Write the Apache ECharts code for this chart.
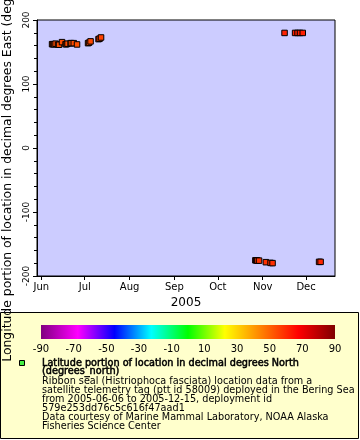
<!DOCTYPE html>
<html><head><meta charset="utf-8">
<script src="https://cdn.jsdelivr.net/npm/echarts@6/dist/echarts.min.js"></script>
<style>html,body{margin:0;padding:0;background:#fff}#c{width:360px;height:440px}</style>
</head><body><div id="c"></div>
<script>
// Observation times (UTC)
const times = [
  '2005-06-08T10:00','2005-06-09T02:00','2005-06-09T19:00','2005-06-10T20:00',
  '2005-06-12T13:00','2005-06-13T06:00','2005-06-15T07:00','2005-06-17T18:00',
  '2005-06-18T10:00','2005-06-19T03:00','2005-06-21T05:00','2005-06-21T21:00',
  '2005-06-23T10:00','2005-06-25T16:00',
  '2005-07-03T07:00','2005-07-03T23:30','2005-07-05T00:30',
  '2005-07-10T13:00','2005-07-11T06:00','2005-07-12T06:30',
  '2005-10-26T23:00','2005-10-27T15:00','2005-10-28T08:00','2005-10-29T12:00',
  '2005-11-03T05:00','2005-11-06T11:00','2005-11-07T20:00',
  '2005-11-16T03:00','2005-11-23T10:00','2005-11-25T03:00','2005-11-26T20:00','2005-11-28T17:00',
  '2005-12-10T00:00','2005-12-11T01:00'
];
// Longitude (degrees East)
const lons = [
  162.2,162.2,162.2,163.0,
  161.4,161.4,165.4,162.2,
  162.2,163.0,163.8,163.8,
  163.8,161.8,
  163.8,164.6,166.6,
  170.1,170.8,172.7,
  -175.5,-175.5,-175.9,-176.0,
  -178.4,-179.5,-179.9,
  179.8,179.8,179.8,179.8,179.8,
  -177.9,-177.9
];
// Latitude (degrees North) -> marker colour
const lats = [
  53.6,53.7,53.8,53.9,
  53.5,53.6,54.2,53.7,
  53.8,53.9,54.0,54.1,
  54.3,53.6,
  54.4,54.6,55.0,
  55.8,56.0,56.3,
  58.2,58.3,58.4,58.5,
  59.0,59.3,59.5,
  61.6,61.8,61.9,62.0,62.1,
  60.8,60.9
];
const monthTicks = ['2005-06-01','2005-07-01','2005-08-01','2005-09-01','2005-10-01','2005-11-01','2005-12-01'];
const monthLabels = ['Jun','Jul','Aug','Sep','Oct','Nov','Dec'];
const paletteColors = ['#800080','#ff00ff','#0000ff','#00ffff','#00ff00','#ffff00','#ff8000','#ff0000','#800000'];
const legendLines = [
  'Ribbon seal (Histriophoca fasciata) location data from a',
  'satellite telemetry tag (ptt id 58009) deployed in the Bering Sea',
  'from 2005-06-06 to 2005-12-15, deployment id',
  '579e253dd76c5c616f47aad1',
  'Data courtesy of Marine Mammal Laboratory, NOAA Alaska',
  'Fisheries Science Center'
];
const legendTitle = ['Latitude portion of location in decimal degrees North','(degrees_north)'];

const FF = '"DejaVu Sans", sans-serif';
const tms = monthTicks.map(s => Date.parse(s + 'T00:00:00Z'));
const data = times.map((t, i) => [Date.parse(t + ':00Z'), lons[i], lats[i]]);

const chart = echarts.init(document.getElementById('c'), null, {renderer: 'canvas'});

const textEls = [];
const titleY = [363.3, 371.7];
legendTitle.forEach((s, i) => textEls.push({
  type: 'text', z: 10,
  style: {text: s, x: 42, y: titleY[i], font: '9.7px ' + FF, fill: '#000', stroke: '#000', lineWidth: 0.5, verticalAlign: 'middle'}
}));
legendLines.forEach((s, i) => textEls.push({
  type: 'text', z: 10,
  style: {text: s, x: 42, y: 381.7 + i * 9, font: '9.7px ' + FF, fill: '#000', verticalAlign: 'middle'}
}));

const stops = paletteColors.map((c, i) => ({offset: i / (paletteColors.length - 1), color: c}));

chart.setOption({
  animation: false,
  textStyle: {fontFamily: FF, color: '#000'},
  grid: [
    {left: 37, top: 20, width: 298, height: 256, show: true, backgroundColor: '#ccccff', borderColor: '#000', borderWidth: 1,
     containLabel: false, outerBoundsMode: 'none'},
    {left: 41, top: 325, width: 294, height: 14, show: true, borderWidth: 0,
     containLabel: false, outerBoundsMode: 'none',
     backgroundColor: new echarts.graphic.LinearGradient(0, 0, 1, 0, stops)}
  ],
  xAxis: [
    {
      type: 'value', gridIndex: 0,
      min: Date.parse('2005-05-29T00:00:00Z'), max: Date.parse('2005-12-21T00:00:00Z'),
      splitLine: {show: false},
      axisLine: {show: true, onZero: false, lineStyle: {color: '#000', width: 1}},
      axisTick: {show: true, length: 4, lineStyle: {color: '#000'}, customValues: tms},
      axisLabel: {customValues: tms, fontSize: 10, color: '#000', margin: 6,
        formatter: v => { const k = tms.indexOf(v); return k >= 0 ? monthLabels[k] : ''; }},
      name: '2005', nameLocation: 'middle', nameGap: 21,
      nameTextStyle: {fontSize: 12, color: '#000'}
    },
    {
      type: 'value', gridIndex: 1, min: -90, max: 90, interval: 20,
      splitLine: {show: false}, axisLine: {show: false, onZero: false}, axisTick: {show: false},
      axisLabel: {fontSize: 10, color: '#000', margin: 5}
    }
  ],
  yAxis: [
    {
      type: 'value', gridIndex: 0, min: -200, max: 200, interval: 100,
      splitLine: {show: false},
      axisLine: {show: true, onZero: false, lineStyle: {color: '#000'}},
      axisTick: {show: true, length: 4, lineStyle: {color: '#000'}},
      minorTick: {show: true, splitNumber: 5, length: 3, lineStyle: {color: '#000'}},
      axisLabel: {rotate: 90, fontSize: 9, color: '#000', margin: 6},
      name: 'Longitude portion of location in decimal degrees East (degrees_east)',
      nameLocation: 'middle', nameGap: 18,
      nameTextStyle: {fontSize: 12.4, color: '#000'}
    },
    {type: 'value', gridIndex: 1, show: false, min: 0, max: 1}
  ],
  visualMap: {
    type: 'continuous', show: false, min: -90, max: 90, dimension: 2, seriesIndex: 0,
    inRange: {color: paletteColors}
  },
  series: [{
    type: 'scatter', xAxisIndex: 0, yAxisIndex: 0,
    symbol: 'rect', symbolSize: 5.5,
    itemStyle: {borderColor: '#000', borderWidth: 1, opacity: 1},
    emphasis: {disabled: true},
    data: data
  }],
  graphic: {elements: [
    {type: 'rect', z: -100, shape: {x: 0.5, y: 312.5, width: 358, height: 126}, style: {fill: '#ffffcc', stroke: '#000', lineWidth: 1}},
    {type: 'rect', z: 10, shape: {x: 19.5, y: 360.5, width: 5, height: 5}, style: {fill: '#44ee44', stroke: '#000', lineWidth: 1}}
  ].concat(textEls)}
});
</script></body></html>
